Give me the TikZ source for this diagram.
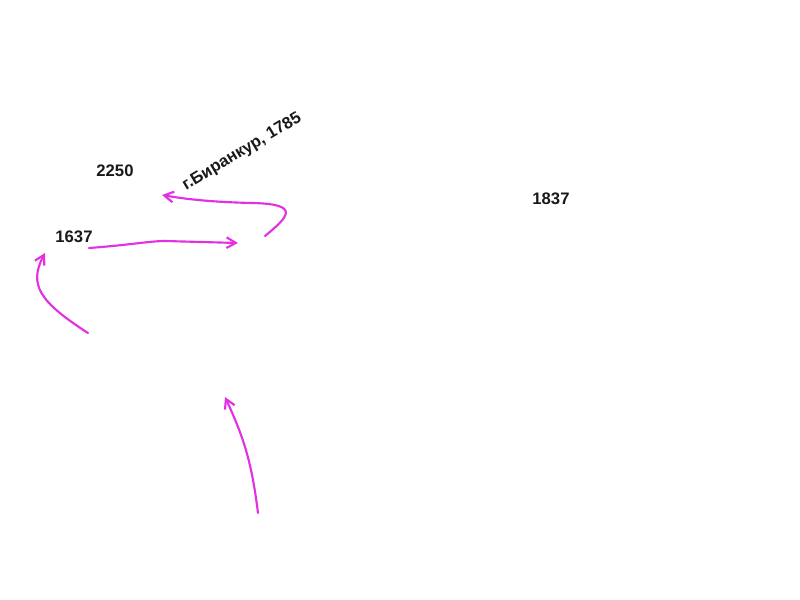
\documentclass[tikz,border=0pt]{standalone}
\usepackage{fontspec}
\setmainfont{Liberation Sans}
\usepackage{xcolor}
\usepackage{tikz}
\usetikzlibrary{arrows.meta,positioning,calc}

\definecolor{penpink}{RGB}{226,48,226}

\begin{document}
\begin{tikzpicture}[
    x=0.75pt, y=-0.75pt,
    year/.style={font=\fontsize{12.5}{15}\selectfont\bfseries, text=black!90, inner sep=0pt},
    stroke/.style={penpink, line width=1.6pt, line cap=round, -{Straight Barb[length=7pt,width=8pt]}}
]
    \useasboundingbox (0,0) rectangle (800,600);

    \node[year] (y2250) at (115,171) {2250};
    \node[year] (y1637) at (74,237) {1637};
    \node[year] (y1837) at (551,199) {1837};
    \node[year, rotate=31] (place) at (242,152) {г.Биранкур, 1785};

    \coordinate (a1) at (88,333);
    \coordinate (a2) at (45,253);
    \coordinate (b1) at (89,248);
    \coordinate (b2) at (238,243);
    \coordinate (c1) at (265,236);
    \coordinate (c2) at (162,195);
    \coordinate (d1) at (258,513);
    \coordinate (d2) at (225,397);

    \draw[stroke] (a1) .. controls (40,302) and (28,285) .. (a2);
    \draw[stroke] (b1) .. controls (130,245) and (150,241) .. (165,241) -- (b2);
    \draw[stroke] (c1) .. controls (288,217) and (302,204) .. (252,203)
        .. controls (210,202) and (185,199) .. (c2);
    \draw[stroke] (d1) .. controls (252,465) and (245,440) .. (d2);
\end{tikzpicture}
\end{document}
